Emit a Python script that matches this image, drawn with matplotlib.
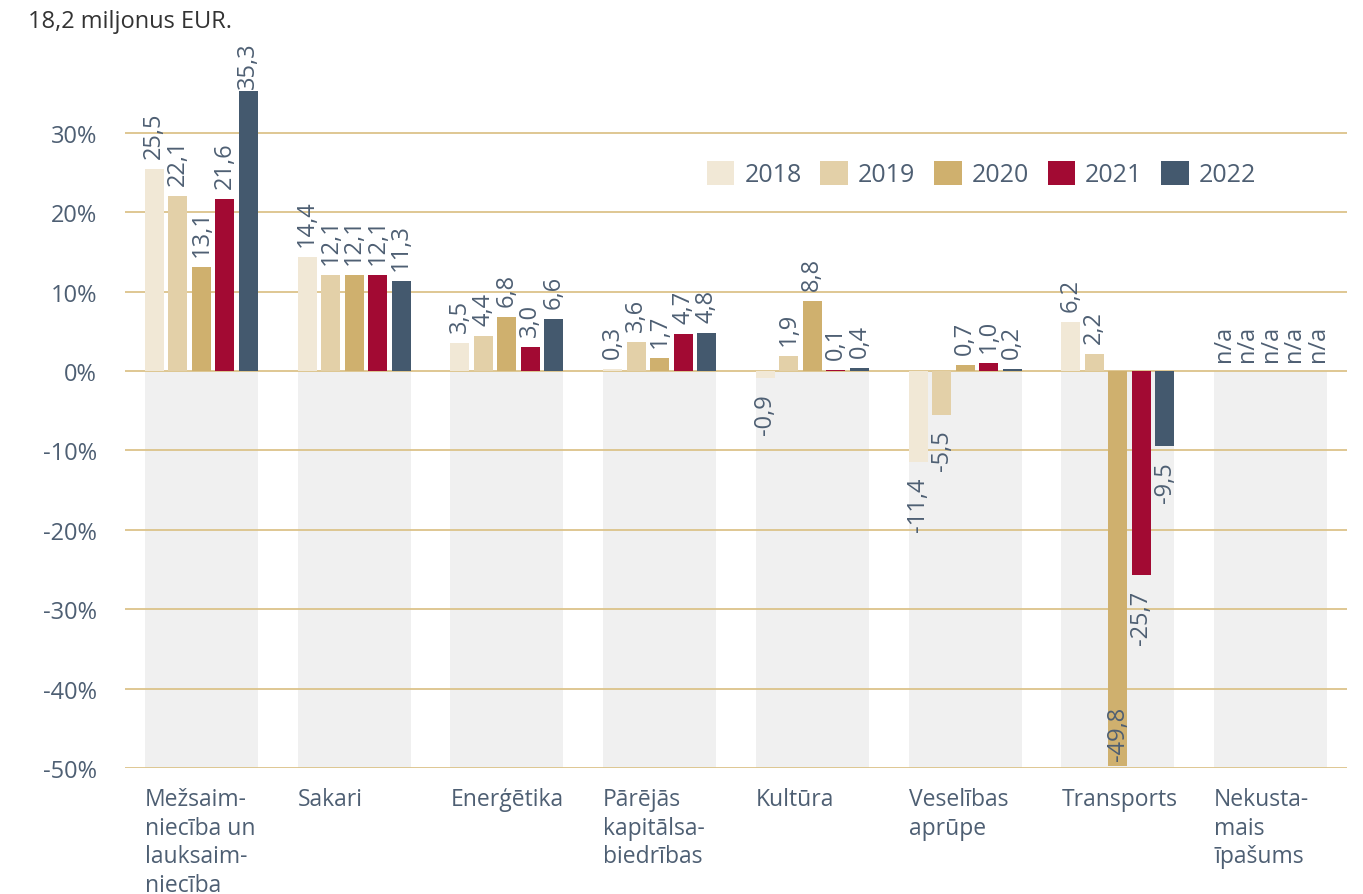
import matplotlib
matplotlib.use("Agg")
import matplotlib.pyplot as plt
from matplotlib.patches import Patch
import numpy as np

plt.rcParams['font.family'] = ['Open Sans', 'DejaVu Sans']

# dati
categories = ["Mežsaim-\nniecība un\nlauksaim-\nniecība", "Sakari", "Enerģētika",
              "Pārējās\nkapitālsa-\nbiedrības", "Kultūra", "Veselības\naprūpe",
              "Transports", "Nekusta-\nmais\nīpašums"]
years = ["2018", "2019", "2020", "2021", "2022"]
v2018 = [25.5, 14.4, 3.5, 0.3, -0.9, -11.4, 6.2, np.nan]
v2019 = [22.1, 12.1, 4.4, 3.6, 1.9, -5.5, 2.2, np.nan]
v2020 = [13.1, 12.1, 6.8, 1.7, 8.8, 0.7, -49.8, np.nan]
v2021 = [21.6, 12.1, 3.0, 4.7, 0.1, 1.0, -25.7, np.nan]
v2022 = [35.3, 11.3, 6.6, 4.8, 0.4, 0.2, -9.5, np.nan]
series = [v2018, v2019, v2020, v2021, v2022]
colors = ['#f1e8d6', '#e3d0a8', '#cfb06e', '#a20a33', '#44596e']
yticks = [-50, -40, -30, -20, -10, 0, 10, 20, 30]

txt_col = '#4e5f73'
grid_col = '#dcc38a'

fig = plt.figure(figsize=(13.63, 8.95), dpi=100)
ax = fig.add_axes([125/1363, 126/895, 1222/1363, 714.6/895])
ax.set_xlim(-0.5, 7.5)
ax.set_ylim(-50, 40)

x = np.arange(len(categories))
group_w = 0.74
bar_w = 0.124
pitch = 0.154

# pelēkais fons zem nulles
ax.bar(x, -50, width=group_w, color='#f0f0f0', zorder=0)

for t in yticks:
    ax.axhline(t, color=grid_col, lw=1.3, zorder=1)

for i, vals in enumerate(series):
    pos = x + (i - 2) * pitch
    arr = np.array(vals, dtype=float)
    ax.bar(pos, np.nan_to_num(arr), width=bar_w, color=colors[i], zorder=2)
    for xp, v in zip(pos, arr):
        if np.isnan(v):
            lab, y0, off, va = 'n/a', 0, 10, 'bottom'
        else:
            lab = f'{v:.1f}'.replace('.', ',')
            if v >= 0:
                off = 3 if v > 30 else 11
                y0, va = v, 'bottom'
            elif v < -41:
                y0, off, va = v, 6, 'bottom'
            else:
                y0, off, va = v, -15, 'top'
        ax.annotate(lab, (xp, y0), xytext=(0, off), textcoords='offset pixels',
                    rotation=90, ha='center', va=va, fontsize=17, color=txt_col,
                    zorder=3)

ax.set_yticks(yticks)
ax.set_yticklabels([f'{t}%' for t in yticks], fontsize=17, color=txt_col)
ax.tick_params(axis='y', length=0, pad=20)
ax.set_xticks([])
for s in ax.spines.values():
    s.set_visible(False)

for xi, lab in zip(x, categories):
    ax.text(xi - group_w / 2, -52.4, lab, ha='left', va='top', fontsize=16.5,
            color=txt_col, linespacing=1.25)

handles = [Patch(facecolor=c, edgecolor='none') for c in colors]
fig.legend(handles, years, loc='center left', bbox_to_anchor=(707/1363, 1 - 175/895),
           ncol=5, frameon=False, fontsize=18, handlelength=1.1, handleheight=1.1,
           handletextpad=0.4, columnspacing=0.75, borderpad=0, borderaxespad=0,
           labelcolor=txt_col)

fig.text(28/1363, 1 - 22/895, '18,2 miljonus EUR.', ha='left', va='center',
         fontsize=17, color='#333333')

fig.savefig('out.png', dpi=100)
